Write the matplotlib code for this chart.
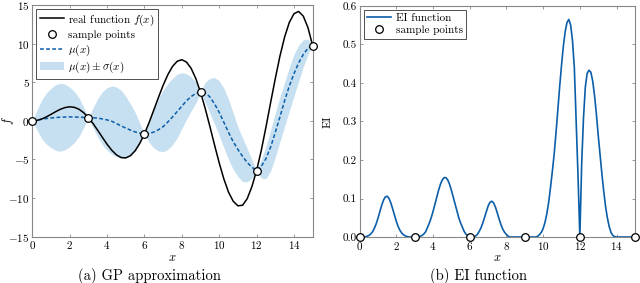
import numpy as np
import matplotlib
matplotlib.use("Agg")
import matplotlib.pyplot as plt

plt.rcParams['font.family'] = ['cmr10', 'DejaVu Serif']
plt.rcParams['mathtext.fontset'] = 'cm'
plt.rcParams['axes.formatter.use_mathtext'] = True
plt.rcParams['axes.unicode_minus'] = True

# ---------------- data ----------------
x_grid = np.arange(0, 15.001, 0.25)

f_real = [0.0, 0.06, 0.24, 0.51, 0.84, 1.19, 1.50, 1.72, 1.82, 1.75, 1.50, 1.05,
          0.42, -0.35, -1.23, -2.14, -3.03, -3.80, -4.40, -4.75, -4.80, -4.51, -3.88, -2.92,
          -1.68, -0.21, 1.40, 3.04, 4.60, 5.97, 7.04, 7.71, 7.92, 7.61, 6.79, 5.47,
          3.71, 1.61, -0.71, -3.12, -5.44, -7.53, -9.24, -10.41, -11.00, -10.93, -10.07, -8.51,
          -6.44, -3.85, -0.83, 2.35, 5.46, 8.38, 10.85, 12.73, 13.87, 14.17, 13.56, 12.07,
          9.75]

mu = [0.0, 0.10, 0.20, 0.30, 0.37, 0.43, 0.47, 0.50, 0.51, 0.50, 0.48, 0.45,
      0.42, 0.40, 0.36, 0.25, 0.12, -0.05, -0.35, -0.65, -0.93, -1.20, -1.43, -1.60,
      -1.68, -1.65, -1.45, -1.15, -0.75, -0.15, 0.50, 1.20, 1.90, 2.60, 3.15, 3.55,
      3.71, 3.65, 3.10, 2.20, 1.10, -0.20, -1.50, -2.70, -3.70, -4.60, -5.40, -6.00,
      -6.44, -5.90, -4.90, -3.40, -1.50, 0.50, 2.60, 4.50, 6.10, 7.50, 8.60, 9.40,
      9.75]

band_hi = [0.0, 1.40, 2.70, 3.60, 4.22, 4.68, 4.87, 4.75, 4.36, 3.80, 2.98, 1.75,
           0.42, 1.70, 2.90, 3.75, 4.30, 4.50, 4.40, 3.95, 3.20, 2.20, 1.10, -0.30,
           -1.68, -0.20, 1.60, 2.90, 4.00, 4.85, 5.50, 6.05, 6.25, 6.10, 5.70, 5.00,
           3.71, 5.00, 5.50, 5.60, 5.20, 4.20, 2.80, 1.00, -0.80, -2.20, -3.60, -5.00,
           -6.44, -5.00, -3.30, -1.20, 1.00, 3.10, 5.00, 6.90, 8.60, 9.80, 10.50, 10.60,
           9.75]

band_lo = [0.0, -1.20, -2.30, -3.00, -3.48, -3.82, -3.93, -3.75, -3.34, -2.80, -2.02, -0.85,
           0.42, -0.90, -2.10, -3.10, -3.80, -4.30, -4.65, -4.80, -4.80, -4.50, -3.90, -2.90,
           -1.68, -2.80, -3.50, -3.90, -4.00, -3.70, -3.10, -2.20, -1.00, 0.20, 1.30, 2.30,
           3.71, 2.40, 1.00, -0.40, -1.90, -3.50, -5.00, -6.30, -7.20, -7.85, -7.90, -7.40,
           -6.44, -7.40, -7.50, -6.50, -4.70, -2.70, -0.70, 1.30, 3.20, 5.10, 7.00, 8.60,
           9.75]

sample_x = [0, 3, 6, 9, 12, 15]
sample_f = [0.0, 0.42, -1.68, 3.71, -6.44, 9.75]
sample_ei = [0, 0, 0, 0, 0, 0]

ei_grid = np.arange(0, 15.001, 0.1)
ei = [0, 0, 0, 0, 0.002, 0.004, 0.0077, 0.0136, 0.0225, 0.0344,      # 0.0-0.9
      0.0493, 0.066, 0.0824, 0.0959, 0.1042, 0.1059, 0.0999, 0.0883, 0.0727, 0.0559,  # 1.0-1.9
      0.0401, 0.0268, 0.0168, 0.0098, 0.0053, 0.0027, 0.0010, 0, 0, 0,  # 2.0-2.9
      0, 0, 0.001, 0.002, 0.004, 0.008, 0.014, 0.0255, 0.0366, 0.0503,  # 3.0-3.9
      0.0666, 0.0846, 0.1034, 0.1213, 0.1368, 0.1482, 0.1542, 0.1542, 0.1482, 0.1368,  # 4.0-4.9
      0.1213, 0.1034, 0.0846, 0.0666, 0.0503, 0.0366, 0.0255, 0.014, 0.007, 0.003,  # 5.0-5.9
      0, 0, 0, 0.002, 0.006, 0.0133, 0.0225, 0.0349, 0.050, 0.066,  # 6.0-6.9
      0.0803, 0.0899, 0.093, 0.0886, 0.0777, 0.0628, 0.0468, 0.0322, 0.0204, 0.0119,  # 7.0-7.9
      0.0064, 0.002, 0, 0, 0, 0, 0, 0, 0, 0,  # 8.0-8.9
      0, 0, 0, 0, 0, 0, 0, 0.002, 0.006, 0.012,  # 9.0-9.9
      0.022, 0.038, 0.060, 0.090, 0.128, 0.170, 0.215, 0.270, 0.330, 0.390,  # 10.0-10.9
      0.445, 0.495, 0.533, 0.557, 0.565, 0.550, 0.510, 0.440, 0.300, 0.160,  # 11.0-11.9
      0.0, 0.190, 0.310, 0.390, 0.425, 0.433, 0.428, 0.405, 0.368, 0.320,  # 12.0-12.9
      0.265, 0.215, 0.165, 0.120, 0.080, 0.050, 0.027, 0.012, 0.004, 0.001,  # 13.0-13.9
      0, 0, 0, 0, 0, 0, 0, 0, 0, 0,  # 14.0-14.9
      0]
ei_extra_x = [11.95, 12.05]
ei_extra = [0.075, 0.10]

# ---------------- style ----------------
blue = '#0b5ea8'
band_col = '#c6e0f1'
frame_col = '#888888'

fig = plt.figure(figsize=(6.4, 2.83), dpi=100)
ax1 = fig.add_axes([0.0505, 0.1636, 0.438, 0.8187])
ax2 = fig.add_axes([0.562, 0.1625, 0.430, 0.8165])

def style(ax):
    for s in ax.spines.values():
        s.set_color(frame_col)
        s.set_linewidth(0.8)
    ax.tick_params(direction='in', top=True, right=True, length=2.5, width=0.6,
                   color=frame_col, labelsize=8, pad=2)

leg_kw = dict(loc='upper left', fontsize=8.0, frameon=True, fancybox=False,
              edgecolor='#333333', framealpha=1, borderpad=0.3, labelspacing=0.22,
              handlelength=2.2, handletextpad=0.4, borderaxespad=0.35)

# left plot
ax1.fill_between(x_grid, band_lo, band_hi, color=band_col, linewidth=0,
                 label=r'$\mu(x)\pm\sigma(x)$', zorder=1)
ax1.plot(x_grid, f_real, color='black', lw=1.1, label=r'real function $f(x)$', zorder=3)
ax1.plot(x_grid, mu, color=blue, lw=1.1, ls=(0, (2.5, 1.5)), label=r'$\mu(x)$', zorder=2)
ax1.plot(sample_x, sample_f, 'o', ls='none', mfc='white', mec='black', mew=0.9, ms=5.5,
         label='sample points', zorder=5, clip_on=False)
ax1.set_xlim(0, 15)
ax1.set_ylim(-15, 15)
ax1.set_xticks(np.arange(0, 15, 2))
ax1.set_yticks(np.arange(-15, 16, 5))
ax1.set_xlabel(r'$x$', fontsize=9, labelpad=0)
ax1.set_ylabel(r'$f$', fontsize=9)
ax1.yaxis.set_label_coords(-0.057, 0.5)
style(ax1)
h, l = ax1.get_legend_handles_labels()
order = [1, 3, 2, 0]
ax1.legend([h[i] for i in order], [l[i] for i in order], **leg_kw).get_frame().set_linewidth(0.6)

# right plot
x_ei = np.concatenate([ei_grid, ei_extra_x])
y_ei = np.concatenate([ei, ei_extra])
order_ei = np.argsort(x_ei)
ax2.plot(x_ei[order_ei], y_ei[order_ei], color=blue, lw=1.2, label='EI function', zorder=2)
ax2.plot(sample_x, sample_ei, 'o', ls='none', mfc='white', mec='black', mew=0.9, ms=5.5,
         label='sample points', zorder=5, clip_on=False)
ax2.set_xlim(0, 15)
ax2.set_ylim(0, 0.6)
ax2.set_xticks(np.arange(0, 15, 2))
ax2.set_yticks(np.arange(0, 0.61, 0.1))
ax2.set_yticklabels(['0.0', '0.1', '0.2', '0.3', '0.4', '0.5', '0.6'])
ax2.set_xlabel(r'$x$', fontsize=9, labelpad=0)
ax2.set_ylabel('EI', fontsize=8.5)
ax2.yaxis.set_label_coords(-0.1, 0.5)
style(ax2)
ax2.legend(**leg_kw).get_frame().set_linewidth(0.6)

fig.text(0.2328, 0.024, '(a) GP approximation', ha='center', va='center', fontsize=10.5)
fig.text(0.748, 0.024, '(b) EI function', ha='center', va='center', fontsize=10.5)

fig.savefig('out.png', dpi=100)
